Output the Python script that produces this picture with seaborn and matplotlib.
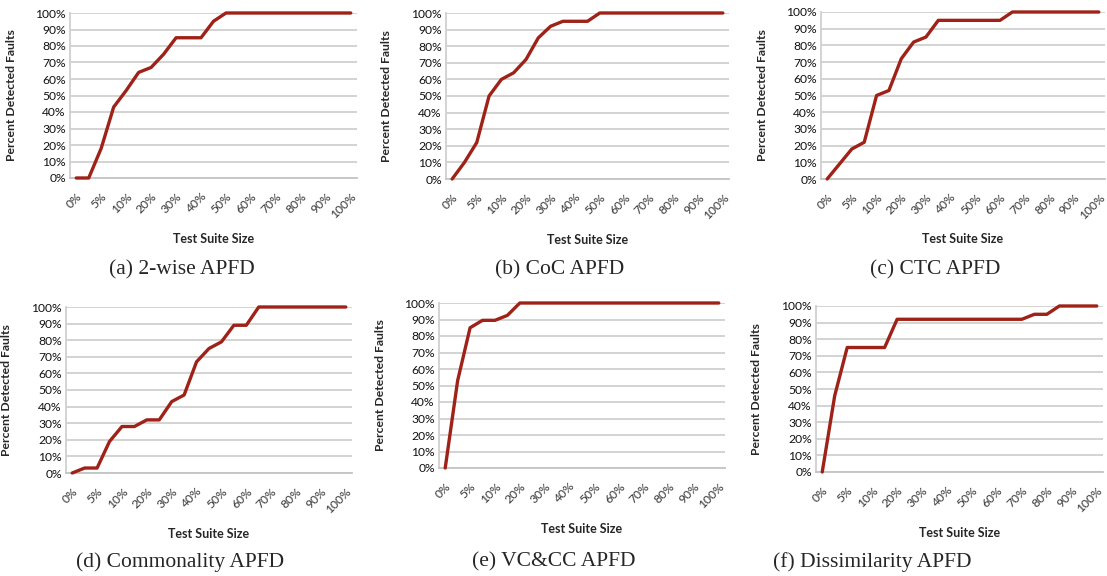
import numpy as np
import pandas as pd
import matplotlib
matplotlib.use('Agg')
import matplotlib.pyplot as plt
import seaborn as sns

# test suite size categories (Excel category axis, every other one labelled)
suite_size = [0, 2.5, 5, 7.5, 10, 15, 20, 25, 30, 35, 40, 45, 50,
              55, 60, 65, 70, 75, 80, 85, 90, 95, 100]
x_labels = ['0%', '5%', '10%', '20%', '30%', '40%', '50%',
            '60%', '70%', '80%', '90%', '100%']
y_labels = ['0%', '10%', '20%', '30%', '40%', '50%',
            '60%', '70%', '80%', '90%', '100%']

# percent detected faults per category
apfd_2wise = [0, 0, 18, 43, 53, 64, 67, 75, 85, 85, 85, 95, 100,
              100, 100, 100, 100, 100, 100, 100, 100, 100, 100]
apfd_coc = [0, 10, 22, 50, 60, 64, 72, 85, 92, 95, 95, 95, 100,
            100, 100, 100, 100, 100, 100, 100, 100, 100, 100]
apfd_ctc = [0, 9, 18, 22, 50, 53, 72, 82, 85, 95, 95, 95, 95,
            95, 95, 100, 100, 100, 100, 100, 100, 100, 100]
apfd_commonality = [0, 3, 3, 19, 28, 28, 32, 32, 43, 47, 67, 75, 79,
                    89, 89, 100, 100, 100, 100, 100, 100, 100, 100]
apfd_vccc = [0, 53, 85, 89.5, 89.5, 92.5, 100, 100, 100, 100, 100, 100, 100,
             100, 100, 100, 100, 100, 100, 100, 100, 100, 100]
apfd_dissimilarity = [0, 46, 75, 75, 75, 75, 92, 92, 92, 92, 92, 92, 92,
                      92, 92, 92, 92, 95, 95, 100, 100, 100, 100]

captions = ['(a) 2-wise APFD', '(b) CoC APFD', '(c) CTC APFD',
            '(d) Commonality APFD', '(e) VC&CC APFD', '(f) Dissimilarity APFD']
series = [apfd_2wise, apfd_coc, apfd_ctc, apfd_commonality, apfd_vccc, apfd_dissimilarity]

W, H = 1107, 576
# plot boxes in pixels: left, top, right, bottom
boxes = [(70, 13, 357, 178), (446, 13, 729, 179), (821, 12, 1105, 179),
         (66, 307, 352, 473), (439, 303, 725, 468), (816, 306, 1103, 472)]
xlab_y = [233, 234, 233, 528, 523, 527]
ylab_x = [17, 392, 768, 12, 386, 762]
cap_xy = [(182, 270), (560, 270), (935, 270), (180, 562), (554, 562), (872, 562)]

sns.set_style('white')
plt.rcParams['font.family'] = ['Lato', 'DejaVu Sans']

LINE = '#9e2218'
GRID = '#d0d0d0'

fig = plt.figure(figsize=(W / 100, H / 100), dpi=100)

for i, vals in enumerate(series):
    l, t, r, b = boxes[i]
    ax = fig.add_axes([l / W, 1 - b / H, (r - l) / W, (b - t) / H])
    df = pd.DataFrame({'pos': np.arange(len(suite_size)), 'size': suite_size, 'faults': vals})
    sns.lineplot(data=df, x='pos', y='faults', ax=ax, color=LINE, linewidth=2.4,
                 clip_on=False, zorder=5)

    ax.set_xlim(-0.5, len(suite_size) - 0.5)
    ax.set_ylim(0, 100)
    ax.set_yticks(np.arange(0, 101, 10))
    ax.set_yticklabels(y_labels, fontsize=8.7, color='#111111')
    ax.set_xticks(np.arange(0, len(suite_size), 2))
    ax.set_xticklabels(x_labels, fontsize=8.7, color='#333333', rotation=45,
                       ha='right', va='top', rotation_mode='anchor')
    ax.tick_params(axis='both', length=0)
    ax.tick_params(axis='x', pad=9)
    ax.tick_params(axis='y', pad=3)

    ax.yaxis.grid(True, color=GRID, linewidth=1.3)
    ax.set_axisbelow(True)
    for s in ['top', 'right']:
        ax.spines[s].set_visible(False)
    ax.spines['left'].set_color(GRID)
    ax.spines['left'].set_linewidth(1.3)
    ax.spines['bottom'].set_color('#c4c4c4')
    ax.spines['bottom'].set_linewidth(1.3)

    ax.set_xlabel('Test Suite Size', fontsize=9, fontweight='bold')
    ax.set_ylabel('Percent Detected Faults', fontsize=8.8, fontweight='bold')
    ax.xaxis.set_label_coords(0.5, -(xlab_y[i] - b) / (b - t))
    ax.yaxis.set_label_coords(-(l - ylab_x[i]) / (r - l), 0.5)

    cx, cy = cap_xy[i]
    fig.text(cx / W, 1 - cy / H, captions[i], ha='center', va='center',
             fontsize=15.5, family=['Liberation Serif', 'DejaVu Serif'])

fig.savefig('out.png', dpi=100)
